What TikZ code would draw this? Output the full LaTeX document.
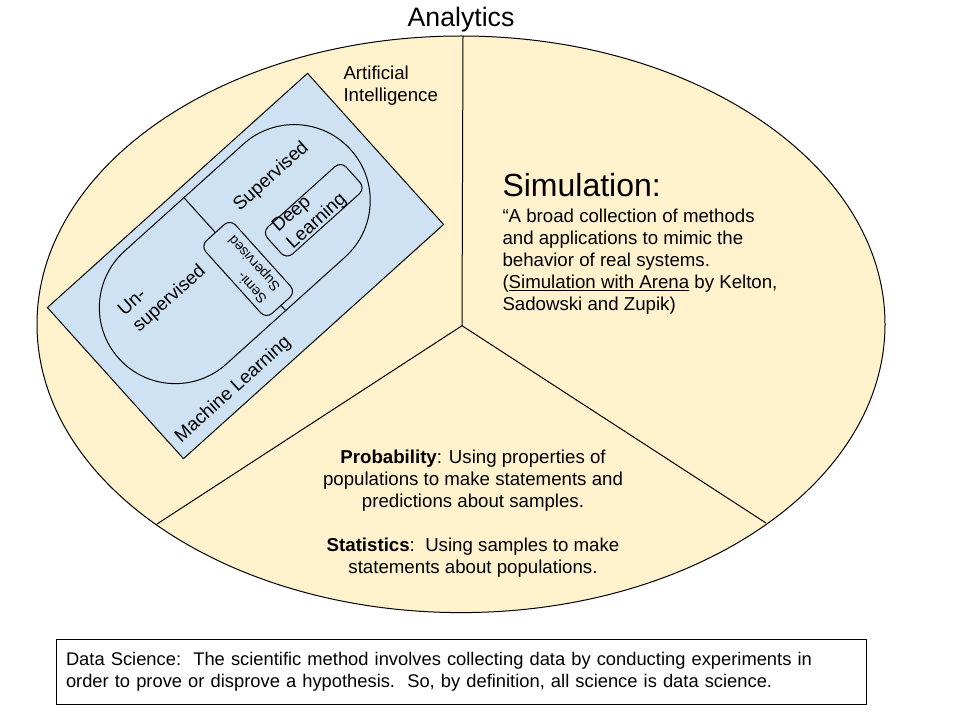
\documentclass[tikz,border=0pt]{standalone}
\usepackage{fontspec}
\setmainfont{Liberation Sans}
\usepackage{tikz}
\definecolor{aibeige}{HTML}{FFF2CC}
\definecolor{mlblue}{HTML}{CFE2F3}
\def\analytics{(461,324.3) ellipse [x radius=424, y radius=288.3]}
\tikzset{
  body/.style={font=\fontsize{14}{16.6}\selectfont, inner sep=0pt},
  roundbox/.style={draw, rounded corners=6pt, inner sep=0pt},
}

\begin{document}
\begin{tikzpicture}[x=0.75pt, y=-0.75pt, line width=0.75pt]
\useasboundingbox (0,0) rectangle (960,720);
\fill[aibeige] \analytics;
\draw \analytics;

\node[font=\fontsize{20}{24}\selectfont, inner sep=0pt, anchor=base] (title) at (461,26.7) {Analytics};

\coordinate (hub) at (462,325.7);
\coordinate (topend) at (463,36);
\coordinate (leftend) at (157,524);
\coordinate (rightend) at (766,523);
\draw (hub) -- (topend) (hub) -- (leftend) (hub) -- (rightend);

\node[body, anchor=north west, align=left] (aitext) at (343,65) {Artificial\\Intelligence};

\node[font=\fontsize{24}{28}\selectfont, inner sep=0pt, anchor=north west] (simtitle) at (502,173) {Simulation:};
\node[body, anchor=north west, align=left] (simtext) at (502,208) {“A broad collection of methods\\and applications to mimic the\\behavior of real systems.\\(\underline{Simulation with Arena} by Kelton,\\Sadowski and Zupik)};

\node[body, anchor=north, align=center] (probtext) at (473,449) {\textbf{Probability}: Using properties of\\populations to make statements and\\predictions about samples.\\[16.6pt]\textbf{Statistics}:\ \ Using samples to make\\statements about populations.};

\node[draw, body, font=\fontsize{13.75}{16.6}\selectfont, inner xsep=7.5pt, text width=592.5pt, minimum height=48.75pt, align=left] (dsbox) at (461,671.5) {Data Science:\ \ The scientific method involves collecting data by conducting experiments in\\order to prove or disprove a hypothesis.\ \ So, by definition, all science is data science.};

% machine learning, turned with the box
\begin{scope}[shift={(245.5,266)}, rotate=42, transform shape]
\node[draw, fill=mlblue, minimum width=262.5pt, minimum height=152.5pt] (mlbox) at (0,0) {};
\node[draw, rounded corners=57pt, minimum width=234pt, minimum height=114pt] (mlloop) at (0,-16) {};
\node[roundbox, rotate=90, minimum width=73.5pt, minimum height=30pt, align=left, font=\fontsize{10.5}{13.5}\selectfont] (semibox) at (0,4) {Semi-\\Supervised};
\node[roundbox, minimum width=79.5pt, minimum height=27.4pt] (dlbox) at (88,4.25) {};
\node[body, anchor=west, align=left] (dltext) at (46,4) {Deep\\Learning};
\node[body] (suptext) at (79,-49) {Supervised};
\node[body, anchor=west, align=left] (unsuptext) at (-124,-37) {Un-\\supervised};
\node[body] (mltext) at (-92,84) {Machine Learning};
\draw (mlloop.north) -- (semibox.east);
\draw (semibox.west) -- (mlloop.south);
\end{scope}
\end{tikzpicture}
\end{document}
